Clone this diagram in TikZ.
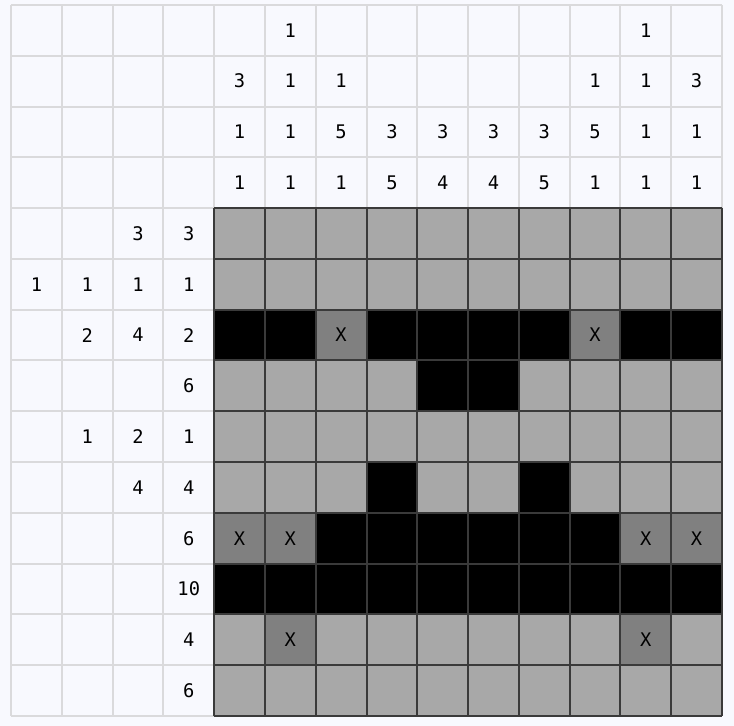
\documentclass[tikz,border=0pt]{standalone}
\usepackage{fontspec}
\setmonofont{DejaVu Sans Mono}
\definecolor{pagebg}{HTML}{F8F9FE}
\definecolor{lightline}{HTML}{DADADC}
\definecolor{darkline}{HTML}{3A3A3A}
\definecolor{cellgray}{HTML}{A8A8A8}
\definecolor{cellx}{HTML}{808080}
\begin{document}
\begin{tikzpicture}[x=1cm,y=-1cm,font=\ttfamily\fontsize{10.5}{12}\selectfont,
  cell/.style={inner sep=0pt,minimum size=1cm},
  cell0/.style={cell,fill=cellgray},
  cell1/.style={cell,fill=black},
  cell2/.style={cell,fill=cellx}]
  \fill[pagebg] (-0.217,-0.098) rectangle (14.236,14.197);
  \draw[lightline,line width=1.1pt] (0,0) grid (14,14);
  % puzzle cells: 0 gray, 1 black, 2 crossed
  \foreach \r/\cells in {1/{0,0,0,0,0,0,0,0,0,0},2/{0,0,0,0,0,0,0,0,0,0},3/{1,1,2,1,1,1,1,2,1,1},4/{0,0,0,0,1,1,0,0,0,0},5/{0,0,0,0,0,0,0,0,0,0},6/{0,0,0,1,0,0,1,0,0,0},7/{2,2,1,1,1,1,1,1,2,2},8/{1,1,1,1,1,1,1,1,1,1},9/{0,2,0,0,0,0,0,0,2,0},10/{0,0,0,0,0,0,0,0,0,0}}
    \foreach \v [count=\c] in \cells
      \node[cell\v] (p\r-\c) at (\c+3.5,\r+3.5) {\ifnum\v=2 X\fi};
  \draw[darkline,line width=1.1pt] (4,4) grid (14,14);
  % column clues
  \foreach \c/\r/\n in {1/2/3,1/3/1,1/4/1,2/1/1,2/2/1,2/3/1,2/4/1,3/2/1,3/3/5,3/4/1,4/3/3,4/4/5,5/3/3,5/4/4,6/3/3,6/4/4,7/3/3,7/4/5,8/2/1,8/3/5,8/4/1,9/1/1,9/2/1,9/3/1,9/4/1,10/2/3,10/3/1,10/4/1}
    \node (col\c-\r) at (\c+3.5,\r-0.5) {\n};
  % row clues
  \foreach \r/\k/\n in {1/3/3,1/4/3,2/1/1,2/2/1,2/3/1,2/4/1,3/2/2,3/3/4,3/4/2,4/4/6,5/2/1,5/3/2,5/4/1,6/3/4,6/4/4,7/4/6,8/4/10,9/4/4,10/4/6}
    \node (row\r-\k) at (\k-0.5,\r+3.5) {\n};
\end{tikzpicture}
\end{document}
